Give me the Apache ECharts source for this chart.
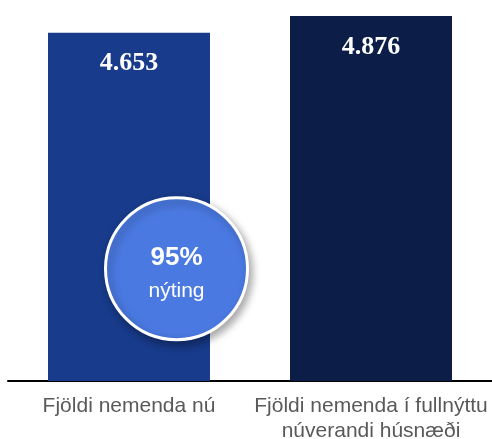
<!DOCTYPE html>
<html>
<head>
<meta charset="utf-8">
<script src="https://cdn.jsdelivr.net/npm/echarts@6/dist/echarts.min.js"></script>
<style>html,body{margin:0;padding:0;background:#fff}#c{width:492px;height:439px}</style>
</head>
<body>
<div id="c"></div>
<script>
const categories = ['Fjöldi nemenda nú', 'Fjöldi nemenda í fullnýttu\nnúverandi húsnæði'];
const values = [4653, 4876];
const valueLabels = ['4.653', '4.876'];
const badgePoint = [0, 1500];
const badgeTitle = '95%';
const badgeSub = 'nýting';
const barColors = ['#183b8b', '#0c1d47'];

const chart = echarts.init(document.getElementById('c'), null, {renderer: 'canvas'});
chart.setOption({
  animation: false,
  grid: {left: 8, right: 0, top: 16, bottom: 58, containLabel: false, outerBoundsMode: 'none'},
  xAxis: {
    type: 'category',
    data: categories,
    axisLine: {lineStyle: {color: '#000', width: 2}},
    axisTick: {show: false},
    axisLabel: {color: '#595959', fontSize: 21, fontFamily: 'Liberation Sans, Arial, sans-serif', margin: 13, lineHeight: 25, interval: 0}
  },
  yAxis: {
    type: 'value', min: 0, max: 'dataMax', show: false,
    splitLine: {show: false}
  },
  series: [
    {
      type: 'bar',
      barWidth: 162,
      data: values.map((v, i) => ({value: v, itemStyle: {color: barColors[i]}})),
      label: {
        show: true, position: 'insideTop', distance: 18,
        formatter: p => valueLabels[p.dataIndex],
        color: '#fff', fontSize: 26, fontWeight: 'bold',
        fontFamily: 'Liberation Serif, Times New Roman, serif'
      },
      z: 1
    },
    {
      type: 'scatter',
      data: [badgePoint],
      symbol: 'circle',
      symbolSize: 142,
      symbolOffset: [47.5, 0],
      itemStyle: {
        opacity: 1,
        color: '#4a79e1', borderColor: '#fff', borderWidth: 3,
        shadowBlur: 8, shadowOffsetX: 3, shadowOffsetY: 4, shadowColor: 'rgba(0,0,0,0.35)'
      },
      emphasis: {disabled: true},
      label: {
        show: true, position: 'inside', offset: [0, 4],
        formatter: '{a|' + badgeTitle + '}\n{b|' + badgeSub + '}',
        rich: {
          a: {color: '#fff', fontSize: 26, fontWeight: 'bold', fontFamily: 'Liberation Sans, Arial, sans-serif', lineHeight: 36},
          b: {color: '#fff', fontSize: 21, fontFamily: 'Liberation Sans, Arial, sans-serif', lineHeight: 30}
        }
      },
      z: 5
    }
  ]
});
</script>
</body>
</html>
